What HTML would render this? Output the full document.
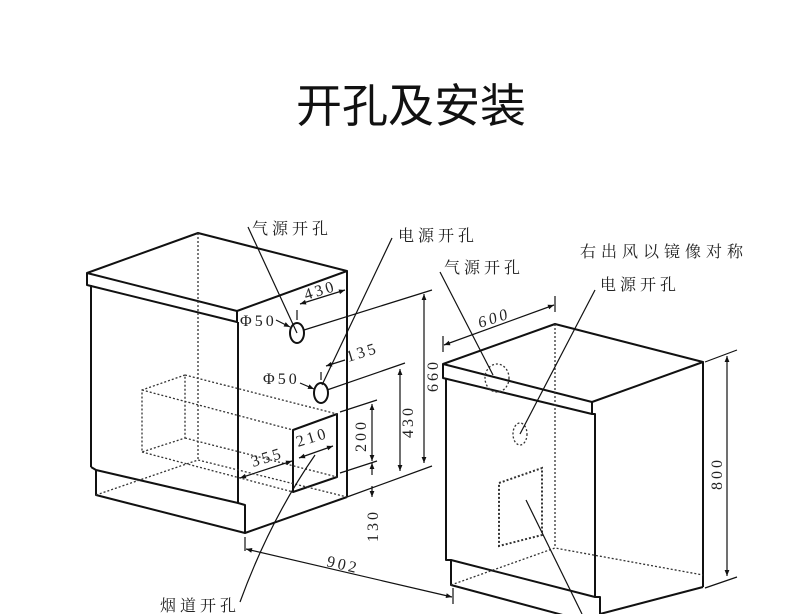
<!DOCTYPE html>
<html><head><meta charset="utf-8"><style>
html,body{margin:0;padding:0;background:#fff;width:790px;height:614px;overflow:hidden}
svg{display:block}
text{font-family:"Liberation Serif","Noto Serif CJK SC","Noto Sans CJK SC",serif;fill:#222}
.t{font-family:"Liberation Sans","Noto Sans CJK SC",sans-serif}
</style></head><body>
<svg width="790" height="614" viewBox="0 0 790 614" xmlns="http://www.w3.org/2000/svg">
<defs>
<marker id="a" viewBox="0 0 10 10" refX="10" refY="5" markerWidth="9" markerHeight="6" orient="auto-start-reverse" markerUnits="userSpaceOnUse"><path d="M0,1 L10,5 L0,9 z" fill="#111"/></marker>
</defs>
<text class="t" x="411" y="122" font-size="46" text-anchor="middle" style="fill:#111">开孔及安装</text>

<g fill="none" stroke="#111" stroke-width="2" stroke-linejoin="round">
<path d="M87,273 L198,233 L347,271 L237,311 Z"/>
<path d="M87,273 L87,285 L237,322 L237,311"/>
<path d="M238,322 L238,503"/>
<path d="M347,271 L347,497"/>
<path d="M91,285 L91,467"/>
<path d="M91,467 L96,470 L238,503 L245,505 L245,533 L347,497"/>
<path d="M96,470 L96,495 L245,533"/>
<path d="M293,430 L337,414 L337,477 L293,492 Z"/>
<ellipse cx="297" cy="333" rx="7" ry="10"/>
<ellipse cx="321" cy="393" rx="7" ry="10"/>
<path d="M443,364 L555,324 L703,362 L592,402 Z"/>
<path d="M443,364 L443,378 L592,414 L592,402"/>
<path d="M592,414 L595,414 L595,597"/>
<path d="M703,362 L703,587"/>
<path d="M446,378 L446,560 L451,560 L595,597 L600,597 L600,614 M703,587 L600,614"/>
<path d="M451,560 L451,585 L600,625"/>
</g>

<g fill="none" stroke="#333" stroke-width="1.3" stroke-dasharray="2,2">
<path d="M198,233 L198,460"/>
<path d="M185,375 L142,390 L142,452 L185,438 Z M185,375 L337,414 M142,390 L293,430 M142,452 L293,492 M185,438 L337,477"/>
<path d="M96,495 L198,460 L347,497"/>
<path d="M555,324 L555,548 M451,585 L555,548 L703,575"/>
<ellipse cx="497" cy="378" rx="12" ry="14"/>
<ellipse cx="520" cy="434" rx="7" ry="11"/>
<path d="M499,483 L542,468 L542,535 L499,546 Z" stroke-width="2"/>
</g>

<g fill="none" stroke="#111" stroke-width="1.2">
<path d="M248,227 L297,333"/>
<path d="M392,238 L322,385"/>
<path d="M240,602 Q270,520 315,455"/>
<path d="M440,272 L493,375"/>
<path d="M595,290 L520,434"/>
<path d="M526,500 L582,614"/>
<path d="M304,330 L432,290 M327,390 L405,363 M340,412 L377,400 M340,473 L377,461 M347,497 L432,466"/>
<path d="M297,320 L297,310 M321,380 L321,372"/>
<path d="M245,537 L245,551 M453,588 L453,604"/>
<path d="M443,336 L443,352 M555,296 L555,312"/>
<path d="M705,362 L737,350 M705,588 L737,577"/>
<path d="M300,304 L345,290" marker-start="url(#a)" marker-end="url(#a)"/>
<path d="M326,366 L345,360" marker-start="url(#a)"/>
<path d="M424,294 L424,463" marker-start="url(#a)" marker-end="url(#a)"/>
<path d="M400,369 L400,471" marker-start="url(#a)" marker-end="url(#a)"/>
<path d="M372,404 L372,461" marker-start="url(#a)" marker-end="url(#a)"/>
<path d="M372,463 L372,475" marker-start="url(#a)"/>
<path d="M372,497 L372,486" marker-start="url(#a)"/>
<path d="M240,478 L292,461" marker-start="url(#a)" marker-end="url(#a)"/>
<path d="M299,458 L333,446" marker-start="url(#a)" marker-end="url(#a)"/>
<path d="M246,549 L452,597" marker-start="url(#a)" marker-end="url(#a)"/>
<path d="M444,345 L554,305" marker-start="url(#a)" marker-end="url(#a)"/>
<path d="M727,356 L727,576" marker-start="url(#a)" marker-end="url(#a)"/>
<path d="M276,320 L290,327" marker-end="url(#a)"/>
<path d="M300,383 L314,389" marker-end="url(#a)"/>
</g>

<g font-size="16">
<text x="252" y="234" letter-spacing="4">气源开孔</text>
<text x="398" y="241" letter-spacing="4">电源开孔</text>
<text x="444" y="273" letter-spacing="4">气源开孔</text>
<text x="580" y="257" letter-spacing="5">右出风以镜像对称</text>
<text x="600" y="290" letter-spacing="4">电源开孔</text>
<text x="160" y="611" letter-spacing="4">烟道开孔</text>
<text x="240" y="326" letter-spacing="3">Φ50</text>
<text x="263" y="384" letter-spacing="3">Φ50</text>
<text x="306" y="300" transform="rotate(-17 306 300)" letter-spacing="3">430</text>
<text x="348" y="362" transform="rotate(-17 348 362)" letter-spacing="3">135</text>
<text x="298" y="447" transform="rotate(-17 298 447)" letter-spacing="3">210</text>
<text x="253" y="467" transform="rotate(-17 253 467)" letter-spacing="3">355</text>
<text x="326" y="566" transform="rotate(13 326 566)" letter-spacing="3">902</text>
<text x="480" y="328" transform="rotate(-18 480 328)" letter-spacing="3" font-style="italic">600</text>
<text transform="translate(438,392) rotate(-90)" letter-spacing="3">660</text>
<text transform="translate(413,438) rotate(-90)" letter-spacing="3">430</text>
<text transform="translate(366,452) rotate(-90)" letter-spacing="3">200</text>
<text transform="translate(378,542) rotate(-90)" letter-spacing="3">130</text>
<text transform="translate(722,490) rotate(-90)" letter-spacing="3">800</text>
</g>
</svg>
</body></html>
